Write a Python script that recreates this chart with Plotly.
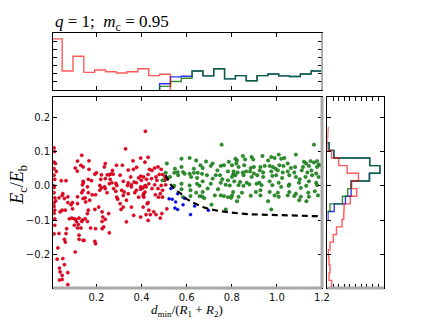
import plotly.graph_objects as go

# ---------------- data ----------------
red_x = [0.417,0.329,0.012,0.015,0.135,0.396,0.167,0.116,0.362,0.012,0.018,0.239,0.289,0.315,0.131,0.235,0.141,0.106,0.378,0.167,
         0.341,0.364,0.271,0.265,0.115,0.022,0.200,0.193,0.222,0.248,0.257,0.274,0.305,0.352,0.396,0.387,0.409,0.012,0.015,0.065,
         0.044,0.141,0.164,0.178,0.219,0.239,0.261,0.286,0.268,0.319,0.341,0.367,0.377,0.399,0.422,0.138,0.142,0.215,0.236,0.257,
         0.290,0.338,0.355,0.396,0.417,0.012,
         0.051,0.048,0.034,0.058,0.073,0.015,0.019,0.094,0.087,0.116,0.135,0.141,0.160,0.164,0.150,0.141,0.152,0.170,0.116,0.073,
         0.048,0.062,0.039,0.015,0.164,0.160,0.181,0.196,0.215,0.222,0.239,0.247,0.276,0.286,0.290,0.294,0.312,0.323,0.319,0.333,
         0.341,0.355,0.370,0.377,0.387,0.396,0.406,0.410,0.420,0.305,0.319,0.309,0.355,0.365,0.396,0.333,0.254,0.228,0.225,0.210,
         0.193,0.094,0.080,0.091,0.102,0.109,0.123,0.138,0.150,0.160,0.135,0.112,0.120,0.102,0.116,0.131,0.174,0.196,0.225,0.232,
         0.225,0.239,0.068,0.034,0.065,0.123,0.141,0.145,0.123,0.058,0.062,0.193,0.196,0.257,0.015,0.015,0.106,0.029,0.026,0.051,
         0.058,0.036,0.039,0.048,0.073,0.036,0.073,0.048,
         0.012,0.012,0.012,0.012,0.012,0.012,0.012,
         0.429,0.415,0.435,0.446,0.458,0.473,0.487,0.429,0.444,0.464,0.478,0.493,0.504,0.468,0.502,0.512,0.432,0.458,0.487,0.507,
         0.415,0.446,0.473,0.493,0.415,0.461,0.483,0.407,0.493,
         0.410,0.425,0.429,0.407,0.432,0.420,0.439,0.429,0.454,0.464,0.483,0.490,0.512,0.475]
red_y = [0.159,0.108,0.111,0.100,0.089,0.081,0.073,0.072,0.073,0.069,0.065,0.065,0.060,0.060,0.060,0.055,0.055,0.052,0.054,0.048,
         0.046,0.048,0.045,0.035,0.043,0.042,0.038,0.034,0.032,0.032,0.032,0.034,0.031,0.026,0.028,0.023,0.026,0.031,0.019,0.015,
         0.015,0.013,0.019,0.015,0.019,0.021,0.019,0.007,0.009,0.013,0.009,0.011,0.009,0.016,0.019,0.003,0.009,0.001,-0.003,0.006,
         0.001,0.001,0.003,-0.003,0.000,0.000,
         -0.023,-0.028,-0.035,-0.037,-0.032,-0.035,-0.044,-0.049,-0.055,-0.032,-0.020,-0.013,-0.003,-0.020,-0.035,-0.037,-0.047,-0.042,-0.052,-0.049,
         -0.071,-0.071,-0.076,-0.071,-0.071,-0.081,-0.026,-0.026,-0.013,-0.006,-0.008,-0.020,-0.008,-0.016,-0.033,-0.039,-0.013,-0.018,-0.028,-0.042,
         -0.023,-0.003,-0.020,-0.013,-0.033,-0.010,-0.006,-0.023,-0.003,-0.052,-0.062,-0.069,-0.062,-0.086,-0.091,-0.105,-0.081,-0.091,-0.076,-0.062,
         -0.069,-0.067,-0.096,-0.094,-0.096,-0.098,-0.094,-0.100,-0.096,-0.104,-0.104,-0.105,-0.113,-0.115,-0.123,-0.123,-0.123,-0.125,-0.125,-0.120,
         -0.104,-0.098,-0.125,-0.139,-0.139,-0.144,-0.159,-0.159,-0.156,-0.156,-0.164,-0.162,-0.169,-0.137,-0.096,-0.115,-0.193,-0.181,-0.214,-0.212,
         -0.230,-0.240,-0.251,-0.261,-0.253,-0.275,-0.288,-0.273,
         -0.005,-0.020,-0.050,-0.060,-0.080,-0.140,0.050,
         0.083,0.069,0.048,0.045,0.052,0.055,0.048,0.033,0.021,0.026,0.033,0.033,0.026,0.016,0.016,0.021,0.006,0.003,0.001,0.003,
         0.000,-0.008,-0.008,-0.013,-0.018,-0.026,-0.023,-0.028,-0.033,
         -0.033,-0.052,-0.049,-0.062,-0.071,-0.084,-0.084,-0.101,-0.076,-0.084,-0.094,-0.081,-0.067,-0.033]

green_x = [0.755,0.512,0.577,0.613,0.642,0.686,0.715,0.707,0.661,0.671,0.751,0.765,0.787,0.548,0.577,0.632,0.736,0.507,0.545,0.560,
           0.584,0.591,0.613,0.632,0.649,0.668,0.690,0.729,0.748,0.783,0.806,0.526,0.562,0.620,0.646,0.715,0.758,0.783,0.493,0.577,
           0.613,0.646,0.671,0.707,0.751,0.773,0.545,0.577,0.657,0.693,0.739,0.791,0.617,0.642,0.671,0.751,0.657,0.584,0.617,0.678,
           0.783,0.725,
           1.164,0.816,0.823,0.849,0.859,0.888,0.895,0.936,0.961,0.975,0.990,1.008,1.019,1.033,1.084,1.120,1.130,1.149,1.164,1.178,
           1.185,0.801,0.820,0.830,0.855,0.884,0.898,0.927,0.946,0.968,0.982,0.994,1.011,1.029,1.048,1.062,1.081,1.116,1.142,1.178,
           1.193,0.808,0.826,0.849,0.864,0.881,0.898,0.924,0.939,0.975,1.004,1.026,1.048,1.077,1.110,1.135,1.153,1.174,0.801,0.816,
           0.852,0.888,0.913,0.939,0.980,0.997,1.023,1.055,1.084,1.101,1.127,1.156,1.185,0.811,0.837,0.866,0.922,0.968,1.008,1.055,
           1.098,1.142,1.174,0.830,0.852,0.878,0.910,0.932,0.980,1.019,1.052,1.106,1.130,1.178,0.806,0.845,0.907,0.927,0.968,1.004,
           1.055,1.084,1.139,1.168,0.801,0.830,0.884,0.927,0.990,1.008,1.048,1.106,1.142,1.182,
           0.668,0.765,0.797,0.823,0.961,1.077,1.099,1.131,0.710,0.773,0.975]
green_y = [0.120,0.065,0.079,0.081,0.074,0.071,0.065,0.058,0.060,0.052,0.058,0.060,0.070,0.050,0.055,0.050,0.045,0.038,0.038,0.040,
           0.040,0.035,0.035,0.038,0.038,0.035,0.031,0.031,0.031,0.042,0.033,0.026,0.031,0.026,0.023,0.021,0.019,0.016,0.016,0.006,
           0.001,0.006,0.013,0.006,0.009,0.003,0.000,-0.010,0.000,-0.008,-0.010,0.001,-0.013,-0.020,-0.018,-0.028,-0.030,-0.033,-0.030,-0.036,
           -0.033,-0.028,
           0.120,0.079,0.074,0.087,0.077,0.084,0.077,0.087,0.074,0.084,0.081,0.091,0.079,0.081,0.091,0.070,0.065,0.072,0.068,0.072,
           0.062,0.060,0.065,0.055,0.060,0.052,0.055,0.055,0.058,0.058,0.055,0.050,0.060,0.058,0.065,0.052,0.055,0.055,0.058,0.055,
           0.060,0.042,0.039,0.039,0.042,0.042,0.036,0.045,0.039,0.042,0.045,0.039,0.042,0.039,0.045,0.039,0.045,0.036,0.026,0.031,
           0.031,0.026,0.031,0.026,0.029,0.031,0.023,0.031,0.026,0.019,0.026,0.031,0.026,0.013,0.011,0.009,0.009,0.013,0.009,0.004,
           0.009,0.013,0.009,0.002,0.000,0.004,0.006,0.002,0.002,-0.003,0.000,-0.006,0.000,0.002,-0.018,-0.020,-0.018,-0.013,-0.018,-0.020,
           -0.018,-0.023,-0.020,-0.016,-0.028,-0.032,-0.029,-0.028,-0.028,-0.032,-0.028,-0.032,-0.032,-0.028,
           -0.031,-0.030,-0.035,-0.045,-0.045,-0.030,-0.042,-0.045,-0.055,-0.069,-0.069]

blue_x = [0.530,0.560,0.591,0.522,0.536,0.551,0.548,0.560,0.584,0.635,0.617,0.696]
blue_y = [-0.008,-0.023,-0.036,-0.038,-0.039,-0.047,-0.065,-0.069,-0.055,-0.059,-0.084,-0.071]

line_x = [0.507,0.526,0.548,0.574,0.599,0.628,0.671,0.707,0.751,0.794,0.838,0.881,0.925,0.968,1.012,1.055,1.099,1.142,1.200]
line_y = [0.031,0.006,-0.011,-0.023,-0.038,-0.049,-0.062,-0.069,-0.074,-0.078,-0.081,-0.083,-0.084,-0.085,-0.086,-0.087,-0.088,-0.088,-0.089]

# top histogram (bins along d_min)
top_edges = [0.0,0.048,0.096,0.144,0.192,0.240,0.288,0.336,0.384,0.432,0.480,0.528,0.576,0.624,0.672,0.720,
             0.768,0.816,0.864,0.912,0.960,1.008,1.056,1.104,1.152,1.200]
top_red = [6.28,2.33,4.14,2.17,2.45,2.25,2.09,2.25,2.61,1.77,1.93,0,0,0,0,0,0,0,0,0,0,0,0,0,0]
top_blue = [0,0,0,0,0,0,0,0,0,0,0.76,1.61,1.69,2.33,1.73,2.61,1.37,1.77,1.13,1.77,1.97,1.73,1.65,1.97,2.33]
top_green = [0,0,0,0,0,0,0,0,0,0,0.44,1.05,1.45,2.33,1.73,2.61,1.37,1.77,1.13,1.77,1.97,1.73,1.65,1.97,2.33]

# right histogram (bins along E_c/E_b)
right_edges = [-0.298,-0.2757,-0.2534,-0.2311,-0.2088,-0.1865,-0.1642,-0.1419,-0.1196,-0.0973,-0.075,
               -0.0527,-0.0304,-0.0081,0.0142,0.0365,0.0588,0.0811,0.1034,0.1257,0.148,0.1703]
right_red = [0.75,0.29,0.46,0.29,0.17,0.46,1.04,1.6,2.6,2.9,2.95,4.05,5.2,4.3,5.5,3.5,2.0,0.75,0,0,0.12]
right_blue = [0,0,0,0,0,0,0,0,0,0.1,1.2,3.2,4.2,4.2,7.4,9.3,7.5,1.16,0.3,0,0]
right_green = [0,0,0,0,0,0,0,0,0,0,0.46,2.66,3.6,4.2,7.5,9.3,7.5,1.16,0.3,0,0]

xticks = [0.2,0.4,0.6,0.8,1.0,1.2]
xticklabels = ["0.2","0.4","0.6","0.8","1.0","1.2"]
yticks = [-0.2,-0.1,0.0,0.1,0.2]
yticklabels = ["\u22120.2","\u22120.1","0.0","0.1","0.2"]
XR = [0.008, 1.2]
YR = [-0.298, 0.259]

# ---------------- helpers ----------------
def step(edges, counts):
    nz = [i for i, c in enumerate(counts) if c > 0]
    a, b = nz[0], nz[-1]
    xs = [edges[a]]
    ys = [0]
    for i in range(a, b + 1):
        xs += [edges[i], edges[i + 1]]
        ys += [counts[i], counts[i]]
    xs.append(edges[b + 1])
    ys.append(0)
    return xs, ys

# the page body has an 8px margin; lay out in window pixels
OFF = 8
W, H = 436 - OFF, 320 - OFF
def fx(p): return (p - OFF) / W
def fy(p): return 1 - (p - OFF) / H

main_x = [fx(54), fx(328)]
main_y = [fy(288), fy(97)]
top_y = [fy(90), fy(33)]
right_x = [fx(333.5), fx(391)]

fig = go.Figure()

RED_H = "rgba(255,0,0,0.65)"
GRN_H = "rgba(0,110,0,0.8)"
BLU_H = "rgba(0,0,255,0.8)"

# main scatter
fig.add_trace(go.Scatter(x=red_x, y=red_y, mode="markers", xaxis="x", yaxis="y",
                         marker=dict(size=3.2, color="#ee0022", line=dict(width=0.5, color="#b00010"))))
fig.add_trace(go.Scatter(x=green_x, y=green_y, mode="markers", xaxis="x", yaxis="y",
                         marker=dict(size=3.4, color="#2a942a", line=dict(width=0.5, color="#0b600b"))))
fig.add_trace(go.Scatter(x=blue_x, y=blue_y, mode="markers", xaxis="x", yaxis="y",
                         marker=dict(size=3.0, color="#0000ff", line=dict(width=0.4, color="#0000aa"))))
fig.add_trace(go.Scatter(x=line_x, y=line_y, mode="lines", xaxis="x", yaxis="y",
                         line=dict(color="black", width=2.2, dash="6px,4px")))

# top histograms
for cnt, col in [(top_blue, BLU_H), (top_green, GRN_H), (top_red, RED_H)]:
    xs, ys = step(top_edges, cnt)
    fig.add_trace(go.Scatter(x=xs, y=ys, mode="lines", xaxis="x2", yaxis="y2",
                             line=dict(color=col, width=1.4)))

# right histograms
for cnt, col in [(right_blue, BLU_H), (right_green, GRN_H), (right_red, RED_H)]:
    ys, xs = step(right_edges, cnt)
    fig.add_trace(go.Scatter(x=xs, y=ys, mode="lines", xaxis="x3", yaxis="y3",
                             line=dict(color=col, width=1.4)))

tickfont = dict(family="DejaVu Sans", size=10, color="#111")
common = dict(showgrid=False, zeroline=False, showline=True, linecolor="black", linewidth=1,
              mirror="allticks", ticks="inside", ticklen=4, tickcolor="black", tickwidth=1)

fig.update_layout(
    width=W, height=H, margin=dict(l=0, r=0, t=0, b=0),
    paper_bgcolor="white", plot_bgcolor="white", showlegend=False,
    xaxis=dict(domain=main_x, anchor="y", range=XR, tickvals=xticks, ticktext=xticklabels,
               tickfont=tickfont, **common),
    yaxis=dict(domain=main_y, anchor="x", range=YR, tickvals=yticks, ticktext=yticklabels,
               tickfont=tickfont, **common),
    xaxis2=dict(domain=main_x, anchor="y2", range=XR, tickvals=xticks[:-1], showticklabels=False, **common),
    yaxis2=dict(domain=top_y, anchor="x2", range=[0, 7], dtick=1, showticklabels=False, **common),
    xaxis3=dict(domain=right_x, anchor="y3", range=[0, 10], dtick=1, showticklabels=False, **common),
    yaxis3=dict(domain=main_y, anchor="x3", range=YR, tickvals=yticks, showticklabels=False, **common),
)

grey = "#a8a8a8"
shapes = [
    dict(type="line", xref="x domain", yref="y domain", x0=0, x1=1, y0=0, y1=0, line=dict(color=grey, width=3)),
    dict(type="line", xref="x domain", yref="y domain", x0=1, x1=1, y0=0, y1=1, line=dict(color=grey, width=3)),
    dict(type="line", xref="x2 domain", yref="y2 domain", x0=1, x1=1, y0=0, y1=1, line=dict(color=grey, width=2)),
    dict(type="line", xref="x3 domain", yref="y3 domain", x0=0, x1=1, y0=0, y1=0, line=dict(color=grey, width=3)),
]
fig.update_layout(shapes=shapes)

serif = "Liberation Serif"
fig.add_annotation(text="<i>q</i> = 1;  <i>m</i><sub>c</sub> = 0.95", xref="paper", yref="paper",
                   x=fx(54), y=fy(23), xanchor="left", yanchor="middle", showarrow=False,
                   font=dict(family=serif, size=17, color="black"))
fig.add_annotation(text="<i>E</i><sub>c</sub>/<i>E</i><sub>b</sub>", xref="paper", yref="paper",
                   x=fx(18), y=fy(185), xanchor="center", yanchor="middle", showarrow=False, textangle=-90,
                   font=dict(family=serif, size=18, color="black"))
fig.add_annotation(text="<i>d</i><sub>min</sub>/(<i>R</i><sub>1</sub> + <i>R</i><sub>2</sub>)", xref="paper", yref="paper",
                   x=fx(190), y=fy(310.5), xanchor="center", yanchor="middle", showarrow=False,
                   font=dict(family=serif, size=13, color="black"))

fig.write_html("out.html")
